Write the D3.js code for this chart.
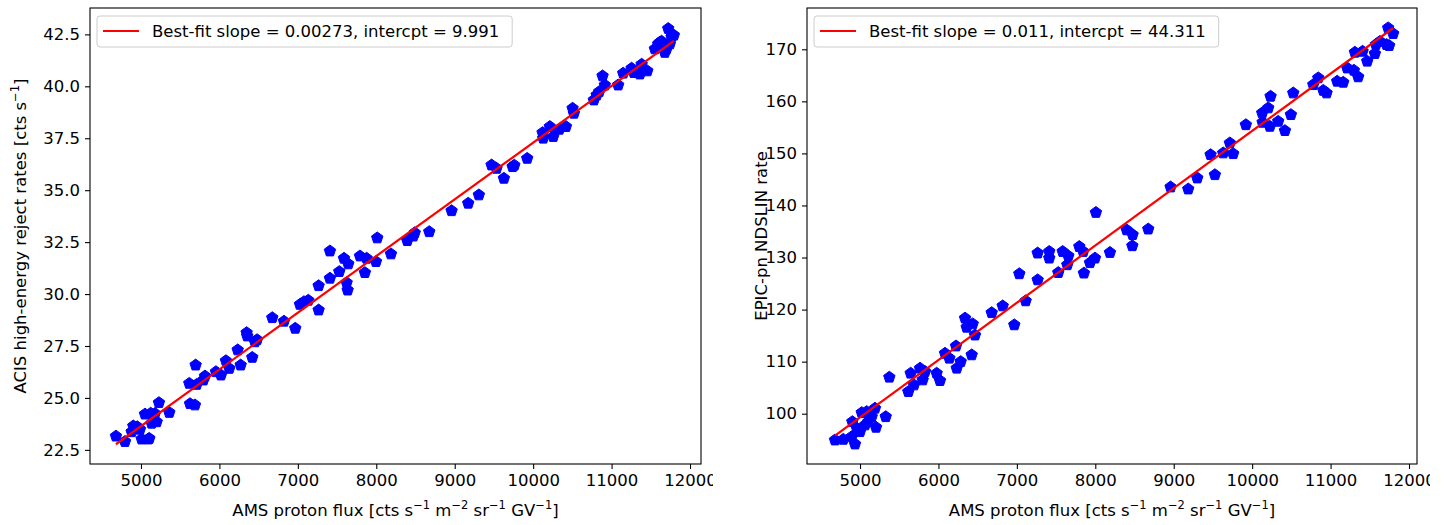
<!DOCTYPE html>
<html>
<head>
<meta charset="utf-8">
<script src="https://cdn.jsdelivr.net/npm/d3@7"></script>
<style>
  body { margin: 0; background: #fff; }
  svg { display: block; font-family: "DejaVu Sans", sans-serif; }
</style>
</head>
<body>
<svg id="chart"></svg>
<script>
// ACIS panel: AMS flux vs ACIS high-energy reject rate
const acisFlux = [4681, 4796, 4881, 4902, 4953, 4987, 5009, 5051, 5093, 5106, 5124, 5136, 5178, 5200, 5229, 5361,
  5616, 5625, 5688, 5697, 5710, 5795, 5816, 5956, 6020, 6083, 6126, 6233, 6271, 6347, 6355, 6419, 6453, 6480,
  6674, 6823, 6967, 7027, 7078, 7133, 7265, 7265, 7409, 7409, 7528, 7588, 7643, 7622, 7635, 7792, 7855, 7877, 7996, 8012, 8187,
  8395, 8471, 8490, 8675, 8960, 9172, 9308, 9470, 9533, 9627, 9738, 9760, 9924,
  10120, 10128, 10213, 10256, 10333, 10418, 10503, 10520, 10774, 10810, 10842, 10885, 10914, 11084, 11148, 11255,
  11284, 11361, 11383, 11455, 11552, 11594, 11616, 11637, 11679, 11701, 11722, 11743, 11765, 11794];
const acisRate = [23.16, 22.9, 23.37, 23.65, 23.61, 23.49, 23.02, 24.22, 23.02, 23.05, 24.26, 23.78, 24.25, 23.85, 24.77, 24.3,
  25.7, 24.72, 24.66, 26.58, 25.65, 25.86, 26.05, 26.26, 26.1, 26.79, 26.42, 27.31, 26.58, 28.14, 27.98, 26.95, 27.7, 27.8,
  28.86, 28.69, 28.35, 29.5, 29.63, 29.7, 29.23, 30.4, 30.76, 32.07, 31.08, 31.72, 31.45, 30.55, 30.19, 31.83, 31.03, 31.72, 31.56, 32.7, 31.93,
  32.57, 32.79, 32.95, 33.0, 34.01, 34.37, 34.77, 36.21, 36.05, 35.57, 36.13, 36.2, 36.53,
  37.77, 37.5, 38.06, 37.58, 37.93, 38.06, 38.94, 38.7, 39.34, 39.58, 39.74, 40.5, 40.06, 40.06, 40.63, 40.87,
  40.66, 40.59, 41.06, 40.74, 41.8, 42.04, 42.12, 42.17, 41.63, 41.8, 42.78, 42.04, 42.38, 42.46];

// EPIC panel: AMS flux vs EPIC-pn NDSLIN rate
const epicFlux = [4681, 4787, 4894, 4936, 4902, 4960, 5000, 5022, 5064, 5085, 5106, 5149, 5191, 5204, 5328, 5374,
  5616, 5646, 5688, 5765, 5799, 5829, 5977, 6020, 6084, 6139, 6224, 6233, 6284, 6339, 6360, 6437, 6424, 6466,
  6679, 6819, 6967, 7031, 7112, 7265, 7265, 7413, 7413, 7528, 7584, 7656, 7643, 7796, 7855, 7846, 7932, 7996, 8008, 8187,
  8400, 8476, 8472, 8675, 8960, 9185, 9300, 9525, 9470, 9631, 9716, 9758, 9920,
  10128, 10205, 10235, 10133, 10226, 10332, 10418, 10494, 10524, 10779, 10843, 10907, 10949, 11084, 11161, 11212,
  11297, 11352, 11310, 11408, 11467, 11565, 11578, 11629, 11714, 11747, 11734, 11798];
const epicRate = [94.94, 95.07, 95.58, 94.17, 98.46, 97.2, 96.54, 100.2, 97.83, 100.4, 98.46, 99.42, 101.04, 97.38, 99.42, 107.0,
  104.23, 107.77, 105.52, 108.73, 106.48, 108.08, 107.77, 106.35, 111.6, 110.65, 113.0, 108.73, 110.0, 118.35, 116.6, 117.25, 111.3, 115.1,
  119.4, 120.7, 117.06, 126.87, 121.67, 130.85, 125.7, 131.15, 129.88, 127.1, 131.15, 130.3, 128.6, 132.1, 127.0, 131.15, 129.0, 129.88, 138.65, 130.96,
  135.3, 134.4, 132.25, 135.46, 143.54, 143.15, 145.27, 145.9, 149.75, 150.08, 152.0, 149.94, 155.5,
  157.77, 158.73, 160.96, 155.96, 155.19, 156.15, 154.37, 157.44, 161.6, 163.2, 164.5, 162.1, 161.6, 163.85, 163.65, 166.4,
  165.96, 164.7, 169.42, 169.6, 167.7, 169.17, 170.9, 171.5, 170.9, 170.7, 174.1, 173.0];

// fit parameters from the legends
const acisFit = { slope: 0.00273, intercept: 9.991 };
const epicFit = { slope: 0.011, intercept: 44.311 };

const xTicks = [5000, 6000, 7000, 8000, 9000, 10000, 11000, 12000];
const acisTicks = [22.5, 25.0, 27.5, 30.0, 32.5, 35.0, 37.5, 40.0, 42.5];
const epicTicks = [100, 110, 120, 130, 140, 150, 160, 170];

const width = 1451;
const height = 525;
const fontSize = 16.5;
const supSize = 11.5;

const svg = d3.select('#chart')
  .attr('width', width)
  .attr('height', height);

// 오각형 마커 경로
function pentagon(cx, cy, r) {
  const pts = d3.range(5).map((i) => {
    const a = -Math.PI / 2 + i * 2 * Math.PI / 5;
    return [cx + r * Math.cos(a), cy + r * Math.sin(a)];
  });
  return 'M' + pts.map((p) => p.join(',')).join('L') + 'Z';
}

// 위첨자가 있는 라벨
function richText(sel, parts) {
  let shifted = false;
  parts.forEach(([t, sup]) => {
    sel.append('tspan').attr('dy', shifted ? 7 : 0).text(t);
    shifted = false;
    if (sup) {
      sel.append('tspan').attr('dy', -7).attr('font-size', supSize).text(sup);
      shifted = true;
    }
  });
}

function panel(opts) {
  const { left, right, top, bottom, xDomain, yDomain, xs, ys, fit, yTicks, yFormat, yLabel, yLabelOffset, legendText, clipRight, clipId } = opts;

  svg.append('clipPath').attr('id', clipId)
    .append('rect')
    .attr('x', left - 100).attr('y', 0)
    .attr('width', clipRight - left + 100).attr('height', height);

  const g = svg.append('g').attr('clip-path', `url(#${clipId})`);

  const x = d3.scaleLinear().domain(xDomain).range([left, right]);
  const y = d3.scaleLinear().domain(yDomain).range([bottom, top]);

  // 점 그리기
  g.append('g')
    .selectAll('path')
    .data(xs.map((v, i) => [v, ys[i]]))
    .join('path')
    .attr('d', (d) => pentagon(x(d[0]), y(d[1]), 6))
    .attr('fill', '#0000ff')
    .attr('stroke', '#0000ff')
    .attr('stroke-width', 1);

  // 회귀선
  const line = d3.line()
    .x((d) => x(d))
    .y((d) => y(fit.slope * d + fit.intercept));
  g.append('path')
    .datum(d3.extent(xs))
    .attr('fill', 'none')
    .attr('stroke', '#ff0000')
    .attr('stroke-width', 2.2)
    .attr('d', line);

  // X축
  const xAxis = g.append('g')
    .attr('transform', `translate(0,${bottom})`)
    .call(d3.axisBottom(x).tickValues(xTicks).tickFormat(d3.format('d')).tickSize(5).tickPadding(5).tickSizeOuter(0));
  // Y축
  const yAxis = g.append('g')
    .attr('transform', `translate(${left},0)`)
    .call(d3.axisLeft(y).tickValues(yTicks).tickFormat(d3.format(yFormat)).tickSize(5).tickPadding(5).tickSizeOuter(0));

  [xAxis, yAxis].forEach((a) => {
    a.select('.domain').remove();
    a.selectAll('text').attr('font-size', fontSize).attr('font-family', '"DejaVu Sans", sans-serif').attr('fill', '#000');
    a.selectAll('line').attr('stroke', '#000').attr('stroke-width', 1.1);
  });

  // 테두리
  g.append('rect')
    .attr('x', left).attr('y', top)
    .attr('width', right - left).attr('height', bottom - top)
    .attr('fill', 'none')
    .attr('stroke', '#000')
    .attr('stroke-width', 1.1);

  // X축 라벨
  const xl = g.append('text')
    .attr('x', (left + right) / 2)
    .attr('y', bottom + 52)
    .attr('text-anchor', 'middle')
    .attr('font-size', fontSize);
  richText(xl, [['AMS proton flux [cts s', '−1'], [' m', '−2'], [' sr', '−1'], [' GV', '−1'], [']', null]]);

  // Y축 라벨
  const yl = g.append('text')
    .attr('transform', `translate(${left - yLabelOffset},${(top + bottom) / 2}) rotate(-90)`)
    .attr('text-anchor', 'middle')
    .attr('font-size', fontSize);
  richText(yl, yLabel);

  // 범례
  const lg = g.append('g');
  const box = lg.append('rect')
    .attr('x', left + 7).attr('y', top + 8)
    .attr('height', 31)
    .attr('rx', 3)
    .attr('fill', '#fff')
    .attr('fill-opacity', 0.8)
    .attr('stroke', '#cccccc')
    .attr('stroke-width', 1);
  lg.append('line')
    .attr('x1', left + 13).attr('x2', left + 49)
    .attr('y1', top + 23).attr('y2', top + 23)
    .attr('stroke', '#ff0000')
    .attr('stroke-width', 2.2);
  const lt = lg.append('text')
    .attr('x', left + 62).attr('y', top + 29)
    .attr('font-size', fontSize)
    .text(legendText);
  box.attr('width', lt.node().getComputedTextLength() + 68);
}

panel({
  left: 90, right: 701, top: 8, bottom: 464,
  xDomain: [4350, 12140], yDomain: [21.82, 43.77],
  xs: acisFlux, ys: acisRate, fit: acisFit,
  yTicks: acisTicks, yFormat: '.1f',
  yLabel: [['ACIS high-energy reject rates [cts s', '−1'], [']', null]],
  yLabelOffset: 64,
  legendText: 'Best-fit slope = 0.00273, intercpt = 9.991',
  clipRight: 713, clipId: 'clipA'
});

panel({
  left: 807, right: 1417, top: 8, bottom: 464,
  xDomain: [4324, 12102], yDomain: [90.34, 177.93],
  xs: epicFlux, ys: epicRate, fit: epicFit,
  yTicks: epicTicks, yFormat: 'd',
  yLabel: [['EPIC-pn NDSLIN rate', null]],
  yLabelOffset: 40,
  legendText: 'Best-fit slope = 0.011, intercpt = 44.311',
  clipRight: 1430, clipId: 'clipB'
});
</script>
</body>
</html>
